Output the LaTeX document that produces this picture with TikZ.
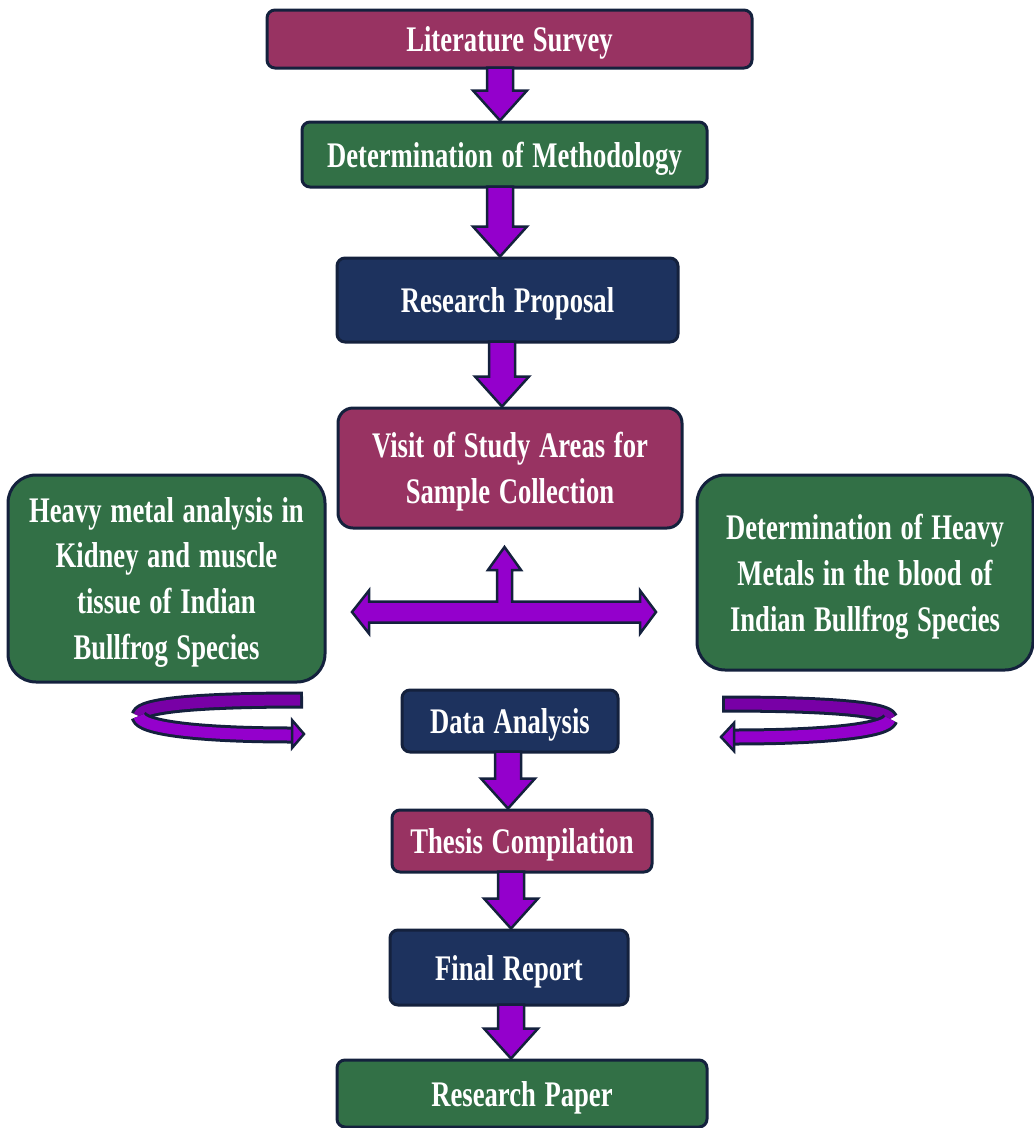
\documentclass[tikz,border=0pt]{standalone}
\usepackage{fontspec}
\setmainfont{Liberation Serif}[FakeStretch=0.74, WordSpace=1.3]
\usetikzlibrary{calc}

\definecolor{boxmaroon}{RGB}{152,51,98}
\definecolor{boxgreen}{RGB}{50,112,70}
\definecolor{boxnavy}{RGB}{29,50,94}
\definecolor{edgenavy}{RGB}{20,33,61}
\definecolor{arrpurple}{RGB}{148,0,204}
\definecolor{arrdark}{RGB}{120,0,166}

% block arrow from one box down to the next, at a given x
\newcommand{\flowarrow}[3]{%
	\draw[flowarr] let \p1=(#1.south), \p2=(#2.north) in
		(#3pt-13pt,\y1+2pt) -- (#3pt+13pt,\y1+2pt) -- (#3pt+13pt,\y2+30pt) -- (#3pt+27pt,\y2+30pt)
		-- (#3pt,\y2) -- (#3pt-27pt,\y2+30pt) -- (#3pt-13pt,\y2+30pt) -- cycle;}

\begin{document}
\begin{tikzpicture}[x=1pt, y=-1pt, line join=round,
		box/.style={draw=edgenavy, line width=3pt, rounded corners=8pt, text=white, align=center, inner sep=0pt,
			text depth=0pt, font=\bfseries\fontsize{36}{46}\selectfont},
		flowarr/.style={draw=edgenavy, line width=2.5pt, fill=arrpurple, line join=miter},
		bandout/.style={draw=edgenavy, line width=17pt},
		bandin/.style={line width=11pt, shorten <=3pt}]
	\useasboundingbox (0,0) rectangle (1034,1128);

	\node[box, fill=boxmaroon, minimum width=485pt, minimum height=58pt] (lit) at (509.5,39) {Literature Survey};
	\node[box, fill=boxgreen, minimum width=405pt, minimum height=65pt] (meth) at (504.5,154.5) {Determination of Methodology};
	\node[box, fill=boxnavy, minimum width=341pt, minimum height=84pt] (prop) at (507.5,300) {Research Proposal};
	\node[box, fill=boxmaroon, rounded corners=15pt, minimum width=344pt, minimum height=120pt] (visit) at (510,468) {Visit of Study Areas for\\Sample Collection};
	\node[box, fill=boxgreen, rounded corners=28pt, minimum width=317pt, minimum height=207pt] (kidney) at (166.5,578.5) {Heavy metal analysis in\\Kidney and muscle\\tissue of Indian\\Bullfrog Species};
	\node[box, fill=boxgreen, rounded corners=28pt, minimum width=336pt, minimum height=195pt] (blood) at (865,572.5) {Determination of Heavy\\Metals in the blood of\\Indian Bullfrog Species};
	\node[box, fill=boxnavy, minimum width=216pt, minimum height=62pt] (data) at (510,721) {Data Analysis};
	\node[box, fill=boxmaroon, minimum width=260pt, minimum height=62pt] (thesis) at (522,841) {Thesis Compilation};
	\node[box, fill=boxnavy, minimum width=238pt, minimum height=75pt] (final) at (509,967.5) {Final Report};
	\node[box, fill=boxgreen, minimum width=370pt, minimum height=67pt] (paper) at (522,1093.5) {Research Paper};

	\flowarrow{lit}{meth}{500}
	\flowarrow{meth}{prop}{500}
	\flowarrow{prop}{visit}{502}
	\flowarrow{data}{thesis}{508}
	\flowarrow{thesis}{final}{511}
	\flowarrow{final}{paper}{511}

	% three-way arrow between the side boxes
	\draw[flowarr] (352,612) -- (369,590.5) -- (369,601.5) -- (497,601.5) -- (497,570) -- (488,570)
		-- (504.5,547) -- (521,570) -- (512,570) -- (512,601.5) -- (640,601.5) -- (640,590.5)
		-- (656,612) -- (640,633.5) -- (640,622.5) -- (369,622.5) -- (369,633.5) -- cycle;

	% curled arrows, left
	\draw[bandout] (303,700) .. controls (200,700) and (140,705) .. (139,716);
	\draw[bandin, arrdark] (303,700) .. controls (200,700) and (140,705) .. (139,716);
	\draw[bandout] (139,716) .. controls (140,728) and (200,735) .. (293,735);
	\draw[line width=11pt, arrpurple] (139,716) .. controls (140,728) and (200,735) .. (293,735);
	\draw[flowarr] (292,720) -- (304,734) -- (292,748) -- cycle;

	% curled arrows, right
	\draw[bandout] (722,704) .. controls (818,704) and (888,708) .. (890,719);
	\draw[bandin, arrdark] (722,704) .. controls (818,704) and (888,708) .. (890,719);
	\draw[bandout] (890,719) .. controls (888,730) and (830,737) .. (733,737);
	\draw[line width=11pt, arrpurple] (890,719) .. controls (888,730) and (830,737) .. (733,737);
	\draw[flowarr] (734,723) -- (721,737) -- (734,751) -- cycle;
\end{tikzpicture}
\end{document}
